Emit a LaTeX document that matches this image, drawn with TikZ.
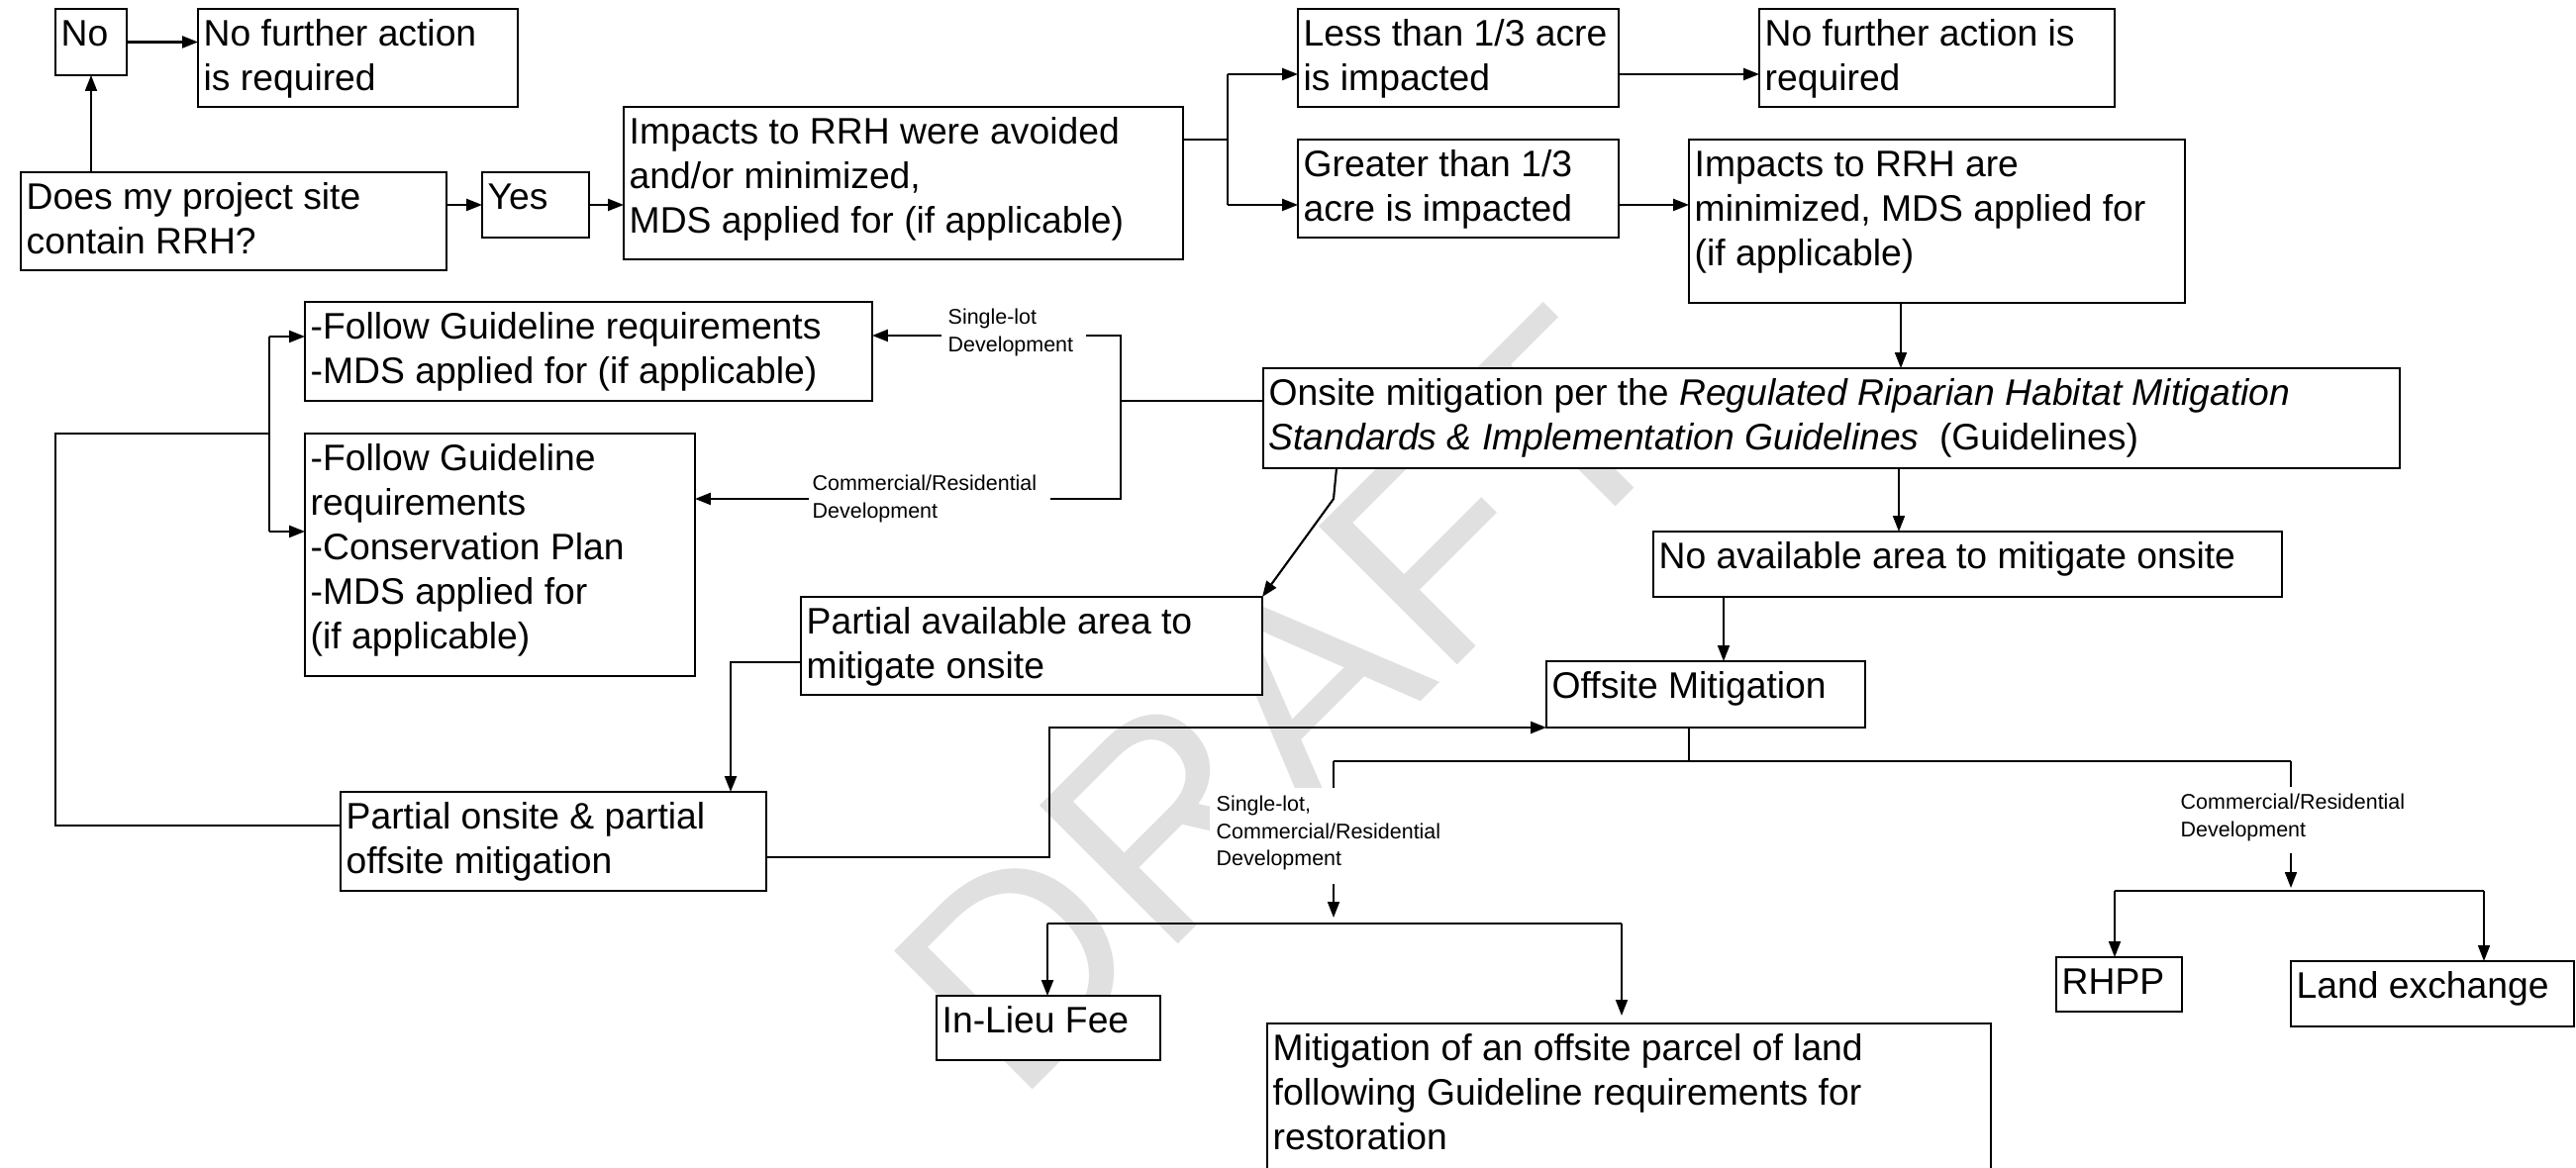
\documentclass[tikz,border=0pt]{standalone}
\usepackage{fontspec}
\setmainfont{Liberation Sans}
\usetikzlibrary{fit,arrows.meta}
\definecolor{wmgray}{RGB}{224,224,224}
\newcommand{\bigfs}{\fontsize{10.6pt}{12.8pt}\selectfont}
\newcommand{\smfs}{\fontsize{6.1pt}{7.85pt}\selectfont}
\newcommand{\fstrut}{\rule{0pt}{0.365cm}}
\newcommand{\sstrut}{\rule{0pt}{0.2cm}}
\newcommand{\mkbox}[5]{\node[boxsty, fit={(#2,#3) (#4,#5)}] (#1) {};}
\newcommand{\mklbl}[5]{\node[lblbox, fit={(#2,#3) (#4,#5)}] (#1) {};}
\begin{document}
\begin{tikzpicture}[x=0.01cm,y=-0.01cm,
  boxsty/.style={draw=black, line width=0.7pt, fill=white, inner sep=0pt, outer sep=0pt},
  lblbox/.style={fill=white, draw=none, inner sep=0pt, outer sep=0pt},
  txt/.style={anchor=north west, inner xsep=0.05cm, inner ysep=0pt, align=left, font=\bigfs},
  ltxt/.style={anchor=north west, inner sep=0pt, align=left, font=\smfs},
  conn/.style={line width=0.6pt},
  thinln/.style={line width=0.45pt},
  arr/.style={-{Triangle[length=4.5pt,width=3.4pt]}}
]
\useasboundingbox (0,0) rectangle (2602,1180);
\fill[white] (0,0) rectangle (2602,1180);

% watermark
\node[rotate=45, anchor=base west, inner sep=0pt, text=wmgray,
      font={\fontsize{81.7pt}{90pt}\selectfont}] (wm) at (1026,1118) {DRAFT};

% boxes
\mkbox{no}{56}{9}{128}{76}
\mkbox{nfa1}{200}{9}{523}{108}
\mkbox{rrh}{21}{174}{451}{273}
\mkbox{yes}{487}{174}{595}{240}
\mkbox{avoid}{630}{108}{1195}{262}
\mkbox{less}{1311}{9}{1635}{108}
\mkbox{nfa2}{1777}{9}{2136}{108}
\mkbox{greater}{1311}{141}{1635}{240}
\mkbox{minim}{1706}{141}{2207}{306}
\mkbox{onsite}{1276}{372}{2424}{473}
\mkbox{fgone}{308}{305}{881}{405}
\mkbox{fgtwo}{308}{438}{702}{683}
\mkbox{pavail}{809}{603}{1275}{702}
\mkbox{noavail}{1670}{537}{2305}{603}
\mkbox{offsite}{1562}{668}{1884}{735}
\mkbox{ponsite}{344}{800}{774}{900}
\mkbox{inlieu}{946}{1006}{1172}{1071}
\mkbox{parcel}{1280}{1034}{2011}{1186}
\mkbox{rhpp}{2077}{967}{2204}{1022}
\mkbox{landex}{2314}{971}{2600}{1037}

% label backgrounds
\mklbl{lone}{951}{305}{1097}{366}
\mklbl{ltwo}{817}{478}{1061}{532}
\mklbl{lthree}{1222}{796}{1470}{893}
\mklbl{lfour}{2196}{795}{2445}{862}

% coordinates for connectors
\coordinate (ja) at (1240,75);
\coordinate (jm) at (1240,141);
\coordinate (jb) at (1240,207);
\coordinate (xm) at (1920,0);
\coordinate (xo) at (1918,0);
\coordinate (xn) at (1741,0);
\coordinate (hb) at (1706,769);
\coordinate (hbl) at (1347,769);
\coordinate (hbr) at (2314,769);
\coordinate (ar3) at (1347,927);
\coordinate (bl) at (1058,933);
\coordinate (br) at (1638,933);
\coordinate (ar4) at (2314,897);
\coordinate (rl) at (2136,900);
\coordinate (rr) at (2509,900);
\coordinate (bk) at (1132,405);
\coordinate (bkt) at (1132,339);
\coordinate (bkb) at (1132,504);
\coordinate (lb1) at (272,340);
\coordinate (lb2) at (272,537);
\coordinate (lbm) at (272,438);
\coordinate (lo) at (56,438);
\coordinate (lo2) at (56,834);
\coordinate (ds) at (1350,0);
\coordinate (d1) at (1347,504);
\coordinate (pp) at (738,669);
\coordinate (po0) at (0,866);
\coordinate (po1) at (1060,866);
\coordinate (po2) at (1060,735);

% connectors
\draw[thinln,arr] (rrh.north -| no.south) -- (no.south);
\draw[conn,arr] (no.east) -- (nfa1.west |- no.east);
\draw[conn,arr] (rrh.east |- yes.east) -- (yes.west);
\draw[conn,arr] (yes.east) -- (avoid.west |- yes.east);
\draw[conn] (avoid.east |- jm) -- (jm);
\draw[conn] (ja) -- (jb);
\draw[conn,arr] (ja) -- (less.west |- ja);
\draw[conn,arr] (jb) -- (greater.west |- jb);
\draw[conn,arr] (less.east |- ja) -- (nfa2.west |- ja);
\draw[conn,arr] (greater.east |- jb) -- (minim.west |- jb);
\draw[thinln,arr] (minim.south -| xm) -- (onsite.north -| xm);
\draw[thinln,arr] (onsite.south -| xo) -- (noavail.north -| xo);
\draw[thinln,arr] (noavail.south -| xn) -- (offsite.north -| xn);
\draw[thinln] (offsite.south -| hb) -- (hb);
\draw[conn] (hbl) -- (hbr);
\draw[thinln] (hbl) -- (lthree.north -| hbl);
\draw[thinln] (hbr) -- (lfour.north -| hbr);
\draw[thinln,arr] (lthree.south -| hbl) -- (ar3);
\draw[conn] (bl) -- (br);
\draw[conn,arr] (bl) -- (inlieu.north -| bl);
\draw[thinln,arr,shorten >=0.08cm] (br) -- (parcel.north -| br);
\draw[thinln,arr] (lfour.south -| hbr) -- (ar4);
\draw[conn] (rl) -- (rr);
\draw[thinln,arr] (rl) -- (rhpp.north -| rl);
\draw[thinln,arr] (rr) -- (landex.north -| rr);
\draw[conn] (onsite.west |- bk) -- (bk);
\draw[conn] (lone.east |- bkt) -- (bkt) -- (bkb) -- (ltwo.east |- bkb);
\draw[conn,arr] (lone.west |- bkt) -- (fgone.east |- bkt);
\draw[conn,arr] (ltwo.west |- bkb) -- (fgtwo.east |- bkb);
\draw[conn] (lb1) -- (lb2);
\draw[conn,arr] (lb1) -- (fgone.west |- lb1);
\draw[conn,arr] (lb2) -- (fgtwo.west |- lb2);
\draw[conn] (ponsite.west |- lo2) -- (lo2) -- (lo) -- (lbm);
\draw[conn,arr] (onsite.south -| ds) -- (d1) -- (pavail.north east);
\draw[conn,arr] (pavail.west |- pp) -- (pp) -- (ponsite.north -| pp);
\draw[conn,arr] (ponsite.east |- po0) -- (po1) -- (po2) -- (offsite.south west);

% box texts
\node[txt] at (no.north west) {\fstrut No};
\node[txt] at (nfa1.north west) {\fstrut No further action\\is required};
\node[txt] at (rrh.north west) {\fstrut Does my project site\\contain RRH?};
\node[txt] at (yes.north west) {\fstrut Yes};
\node[txt] at (avoid.north west) {\fstrut Impacts to RRH were avoided\\and/or minimized,\\MDS applied for (if applicable)};
\node[txt] at (less.north west) {\fstrut Less than 1/3 acre\\is impacted};
\node[txt] at (nfa2.north west) {\fstrut No further action is\\required};
\node[txt] at (greater.north west) {\fstrut Greater than 1/3\\acre is impacted};
\node[txt] at (minim.north west) {\fstrut Impacts to RRH are\\minimized, MDS applied for\\(if applicable)};
\node[txt] at (onsite.north west) {\fstrut Onsite mitigation per the \textit{Regulated Riparian Habitat Mitigation}\\\textit{Standards \& Implementation Guidelines}\hspace{0.55em}(Guidelines)};
\node[txt] at (fgone.north west) {\fstrut -Follow Guideline requirements\\-MDS applied for (if applicable)};
\node[txt] at (fgtwo.north west) {\fstrut -Follow Guideline\\requirements\\-Conservation Plan\\-MDS applied for\\(if applicable)};
\node[txt] at (pavail.north west) {\fstrut Partial available area to\\mitigate onsite};
\node[txt] at (noavail.north west) {\fstrut No available area to mitigate onsite};
\node[txt] at (offsite.north west) {\fstrut Offsite Mitigation};
\node[txt] at (ponsite.north west) {\fstrut Partial onsite \& partial\\offsite mitigation};
\node[txt] at (inlieu.north west) {\fstrut In-Lieu Fee};
\node[txt] at (parcel.north west) {\fstrut Mitigation of an offsite parcel of land\\following Guideline requirements for\\restoration};
\node[txt] at (rhpp.north west) {\fstrut RHPP};
\node[txt] at (landex.north west) {\fstrut Land exchange};

% label texts
\node[ltxt] (tone) at (957,307) {\sstrut Single-lot\\Development};
\node[ltxt] (ttwo) at (820,475) {\sstrut Commercial/Residential\\Development};
\node[ltxt] (tthree) at (1228,799) {\sstrut Single-lot,\\Commercial/Residential\\Development};
\node[ltxt] (tfour) at (2202,797) {\sstrut Commercial/Residential\\Development};
\end{tikzpicture}
\end{document}
